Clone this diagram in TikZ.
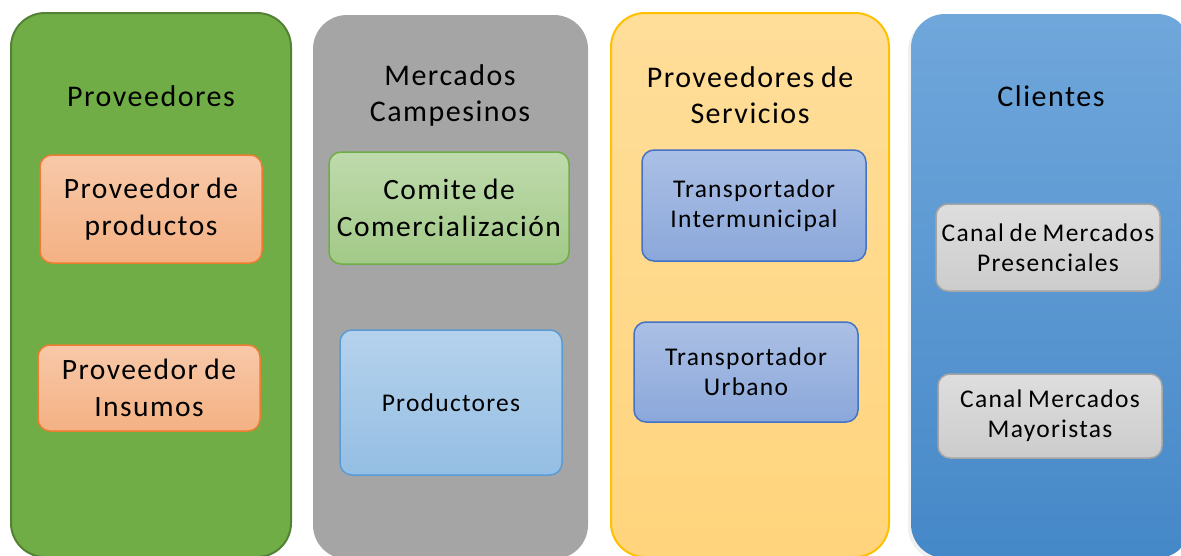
\documentclass[tikz,border=0pt]{standalone}
\usepackage{fontspec}
\setmainfont{Carlito}
\newfontfamily\spacedfont[LetterSpace=5,WordSpace=0.8]{Carlito}
\usepackage{xcolor}
\usepackage{tikz}
\usetikzlibrary{positioning,shadows}
\definecolor{grnCol}{HTML}{70AD47}
\definecolor{grnLine}{HTML}{548235}
\definecolor{grayCol}{HTML}{A5A5A5}
\definecolor{ylwTop}{HTML}{FFDE9A}
\definecolor{ylwBot}{HTML}{FFD47C}
\definecolor{ylwLine}{HTML}{FFC000}
\definecolor{bluTop}{HTML}{70A7DB}
\definecolor{bluBot}{HTML}{4588C8}
\definecolor{orgLine}{HTML}{ED7D31}
\definecolor{bluLine}{HTML}{5B9BD5}
\definecolor{navLine}{HTML}{4472C4}
\tikzset{
  column/.style={rectangle,rounded corners=34pt,minimum width=#1,minimum height=544pt,inner sep=0pt},
  coltitle/.style={align=center,font=\spacedfont\fontsize{30}{36}\selectfont},
  box/.style={rectangle,rounded corners=12pt,line width=1.5pt,align=center,inner sep=0pt},
  bigtext/.style={font=\spacedfont\fontsize{29.5}{37}\selectfont},
  smalltext/.style={font=\spacedfont\fontsize{25.5}{30}\selectfont},
  orangebox/.style={box,draw=orgLine,top color=orgLine!42!white,bottom color=orgLine!60!white},
  greenbox/.style={box,draw=grnCol,top color=grnCol!45!white,bottom color=grnCol!65!white},
  lightbluebox/.style={box,draw=bluLine,top color=bluLine!45!white,bottom color=bluLine!65!white},
  navybox/.style={box,draw=navLine,top color=navLine!45!white,bottom color=navLine!62!white},
  graybox/.style={box,draw=grayCol,top color=black!13,bottom color=black!20}
}
\begin{document}
\begin{tikzpicture}[x=1pt,y=-1pt]
  \useasboundingbox (0,0) rectangle (1181,555);
  % columns
  \node[column=280pt,fill=grnCol,draw=grnLine,line width=2pt] (provcol) at (151,285) {};
  \node[column=275pt,fill=grayCol] (mercol) at (450.5,287) {};
  \node[column=278pt,top color=ylwTop,bottom color=ylwBot,draw=ylwLine,line width=2pt] (servcol) at (750,285) {};
  \node[column=280pt,top color=bluTop,bottom color=bluBot,
        drop shadow={shadow xshift=-3pt,shadow yshift=-3pt,opacity=0.12}] (clicol) at (1051,286) {};
  % titles
  \node[coltitle] (provtitle) at (151,96) {Proveedores};
  \node[coltitle] (mertitle) at (450,95) {Mercados\\Campesinos};
  \node[coltitle] (servtitle) at (750,95) {Proveedores de\\Servicios};
  \node[coltitle] (clititle) at (1051,96) {Clientes};
  % Proveedores
  \node[orangebox,bigtext,minimum width=222pt,minimum height=108pt] (prodprov) at (151,209) {Proveedor de\\productos};
  \node[orangebox,bigtext,minimum width=222pt,minimum height=86pt] (insuprov) at (149,388) {Proveedor de\\Insumos};
  % Mercados Campesinos
  \node[greenbox,bigtext,minimum width=240pt,minimum height=112pt] (comite) at (449,208) {Comite de\\Comercialización};
  \node[lightbluebox,smalltext,minimum width=222pt,minimum height=145pt] (productores) at (451,402.5) {Productores};
  % Proveedores de Servicios
  \node[navybox,smalltext,minimum width=224pt,minimum height=111pt] (intermun) at (754,205.5) {Transportador\\Intermunicipal};
  \node[navybox,smalltext,minimum width=224pt,minimum height=100pt] (urbano) at (746,372) {Transportador\\Urbano};
  % Clientes
  \node[graybox,smalltext,minimum width=224pt,minimum height=87pt] (presen) at (1048,247.5) {Canal de Mercados\\Presenciales};
  \node[graybox,smalltext,minimum width=224pt,minimum height=84pt] (mayor) at (1050,416) {Canal Mercados\\Mayoristas};
\end{tikzpicture}
\end{document}
